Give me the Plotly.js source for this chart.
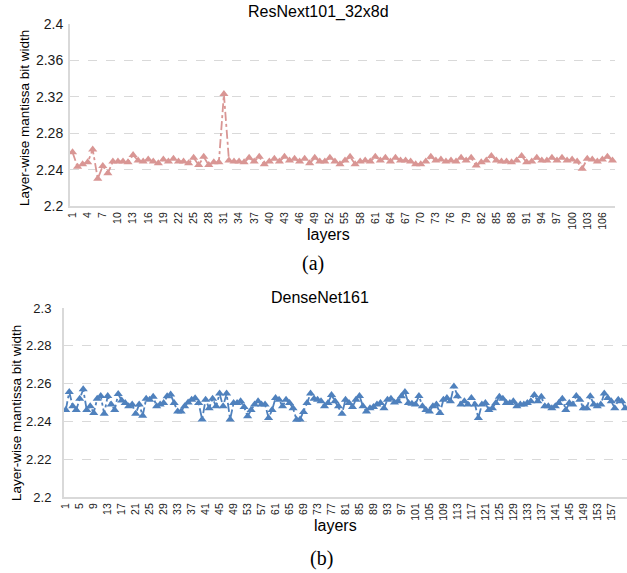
<!DOCTYPE html>
<html>
<head>
<meta charset="utf-8">
<script src="https://cdn.plot.ly/plotly-3.0.1.min.js"></script>
<style>html,body{margin:0;padding:0;background:#fff;overflow:hidden}#chart{width:627px;height:573px}</style>
</head>
<body>
<div id="chart"></div>
<script>
// ResNext101_32x8d layer-wise mantissa bit width (108 layers)
const resnextValues = [
 2.259,2.243,2.246,2.248,2.262,2.230,2.244,2.236,2.249,2.249,
 2.249,2.248,2.256,2.250,2.249,2.251,2.249,2.247,2.251,2.249,
 2.252,2.249,2.249,2.247,2.253,2.245,2.254,2.245,2.248,2.248,
 2.323,2.250,2.249,2.249,2.248,2.253,2.249,2.254,2.246,2.249,
 2.252,2.249,2.254,2.250,2.252,2.249,2.252,2.247,2.253,2.249,
 2.249,2.253,2.249,2.246,2.250,2.254,2.246,2.249,2.250,2.249,
 2.254,2.250,2.253,2.249,2.253,2.250,2.250,2.249,2.246,2.246,
 2.249,2.254,2.250,2.251,2.249,2.250,2.249,2.253,2.250,2.253,
 2.2445,2.248,2.250,2.255,2.250,2.249,2.249,2.248,2.250,2.255,
 2.248,2.249,2.253,2.250,2.250,2.253,2.250,2.253,2.250,2.251,
 2.249,2.241,2.252,2.251,2.249,2.251,2.254,2.250];

// DenseNet161 layer-wise mantissa bit width (161 layers)
const densenetValues = [
 2.246,2.2556,2.248,2.246,2.252,2.257,2.246,2.248,2.2445,2.252,
 2.2535,2.244,2.2535,2.249,2.246,2.2545,2.251,2.2497,2.248,2.249,
 2.244,2.249,2.243,2.252,2.2515,2.253,2.248,2.249,2.2497,2.2533,
 2.2542,2.2497,2.2453,2.2453,2.248,2.250,2.2515,2.2523,2.2497,2.241,
 2.2515,2.247,2.252,2.248,2.2547,2.248,2.2547,2.241,2.2497,2.2497,
 2.2506,2.2476,2.2427,2.246,2.249,2.2506,2.249,2.249,2.2418,2.246,
 2.2524,2.2515,2.248,2.2515,2.2497,2.247,2.2409,2.241,2.245,2.2497,
 2.2547,2.252,2.2515,2.2506,2.248,2.2497,2.254,2.2506,2.248,2.244,
 2.2515,2.2497,2.2476,2.2515,2.2535,2.248,2.2453,2.247,2.2476,2.249,
 2.2497,2.247,2.2515,2.252,2.250,2.2506,2.2533,2.2555,2.2497,2.2494,
 2.249,2.2535,2.248,2.246,2.2453,2.248,2.249,2.2445,2.2515,2.2524,
 2.2506,2.2585,2.2533,2.249,2.2506,2.249,2.2524,2.249,2.2418,2.249,
 2.2497,2.246,2.247,2.2497,2.253,2.252,2.2497,2.2497,2.2506,2.248,
 2.249,2.249,2.2497,2.2506,2.254,2.2506,2.253,2.248,2.248,2.247,
 2.248,2.2497,2.252,2.246,2.2497,2.249,2.2535,2.2515,2.247,2.247,
 2.2533,2.249,2.248,2.249,2.2547,2.2524,2.2506,2.247,2.2515,2.2506,2.247];

// layer indices (categories)
const resnextLayers = resnextValues.map((_, i) => i + 1);
const densenetLayers = densenetValues.map((_, i) => i + 1);

// tick labels
const resnextXTicks = [1,4,7,10,13,16,19,22,25,28,31,34,37,40,43,46,49,52,55,58,61,64,67,70,73,76,79,82,85,88,91,94,97,100,103,106];
const densenetXTicks = [1,5,9,13,17,21,25,29,33,37,41,45,49,53,57,61,65,69,73,77,81,85,89,93,97,101,105,109,113,117,121,125,129,133,137,141,145,149,153,157];
const resnextYTicks = [2.2,2.24,2.28,2.32,2.36,2.4];
const resnextYLabels = ["2.2","2.24","2.28","2.32","2.36","2.4"];
const densenetYTicks = [2.2,2.22,2.24,2.26,2.28,2.3];
const densenetYLabels = ["2.2","2.22","2.24","2.26","2.28","2.3"];

const W = 627, H = 573;
const px = v => v / W;
const py = v => 1 - v / H;

const redColor = '#d99694';
const blueColor = '#4f81bd';
const FONT = 'Liberation Sans, Arial, sans-serif';

const traces = [
  {
    x: resnextLayers, y: resnextValues, xaxis: 'x', yaxis: 'y',
    type: 'scatter', mode: 'lines+markers',
    line: {color: redColor, width: 1.8, dash: 'dashdot'},
    marker: {symbol: 'triangle-up', size: 8, color: redColor},
    cliponaxis: false
  },
  {
    x: densenetLayers, y: densenetValues, xaxis: 'x2', yaxis: 'y2',
    type: 'scatter', mode: 'lines+markers',
    line: {color: blueColor, width: 1.8, dash: 'dashdot'},
    marker: {symbol: 'triangle-up', size: 8, color: blueColor}
  }
];

const gridCommon = {
  showgrid: true, gridcolor: '#d9d9d9', gridwidth: 1.3, griddash: 'dash',
  zeroline: false, ticks: '', showline: true, linecolor: '#d9d9d9', linewidth: 2,
  tickfont: {family: FONT, size: 14, color: '#1a1a1a'}
};
const xCommon = {
  showgrid: false, zeroline: false, ticks: '', showline: true,
  linecolor: '#d9d9d9', linewidth: 2, tickangle: -90,
  tickfont: {family: FONT, size: 10.5, color: '#1a1a1a'}
};

const layout = {
  width: W, height: H,
  margin: {l: 0, r: 0, t: 0, b: 0},
  paper_bgcolor: '#fff', plot_bgcolor: '#fff',
  showlegend: false,
  font: {family: FONT},
  xaxis: Object.assign({}, xCommon, {
    domain: [px(70), px(615)], anchor: 'y', range: [0.5, 108.5],
    tickmode: 'array', tickvals: resnextXTicks, ticktext: resnextXTicks.map(String)
  }),
  yaxis: Object.assign({}, gridCommon, {
    domain: [py(206), py(24)], anchor: 'x', range: [2.2, 2.4],
    tickmode: 'array', tickvals: resnextYTicks, ticktext: resnextYLabels,
    ticklabelstandoff: 2
  }),
  xaxis2: Object.assign({}, xCommon, {
    domain: [px(64), 1], anchor: 'y2', range: [0.5, 161.5],
    tickmode: 'array', tickvals: densenetXTicks, ticktext: densenetXTicks.map(String)
  }),
  yaxis2: Object.assign({}, gridCommon, {
    domain: [py(497), py(308)], anchor: 'x2', range: [2.2, 2.3],
    tickmode: 'array', tickvals: densenetYTicks, ticktext: densenetYLabels,
    ticklabelstandoff: 8,
    tickfont: {family: FONT, size: 13, color: '#1a1a1a'}
  }),
  annotations: [
    {text: 'ResNext101_32x8d', xref: 'paper', yref: 'paper', x: px(318), y: py(12),
     showarrow: false, xanchor: 'center', yanchor: 'middle', font: {family: FONT, size: 16, color: '#000'}},
    {text: 'DenseNet161', xref: 'paper', yref: 'paper', x: px(320), y: py(297),
     showarrow: false, xanchor: 'center', yanchor: 'middle', font: {family: FONT, size: 16, color: '#000'}},
    {text: 'Layer-wise mantissa bit width', xref: 'paper', yref: 'paper', x: px(24), y: py(118),
     showarrow: false, textangle: -90, xanchor: 'center', yanchor: 'middle', font: {family: FONT, size: 13.5, color: '#000'}},
    {text: 'Layer-wise mantissa bit width', xref: 'paper', yref: 'paper', x: px(16), y: py(413),
     showarrow: false, textangle: -90, xanchor: 'center', yanchor: 'middle', font: {family: FONT, size: 13.5, color: '#000'}},
    {text: 'layers', xref: 'paper', yref: 'paper', x: px(328), y: py(234),
     showarrow: false, xanchor: 'center', yanchor: 'middle', font: {family: FONT, size: 16, color: '#000'}},
    {text: 'layers', xref: 'paper', yref: 'paper', x: px(335), y: py(525),
     showarrow: false, xanchor: 'center', yanchor: 'middle', font: {family: FONT, size: 16, color: '#000'}},
    {text: '(a)', xref: 'paper', yref: 'paper', x: px(313), y: py(263),
     showarrow: false, xanchor: 'center', yanchor: 'middle', font: {family: 'Liberation Serif, Times New Roman, serif', size: 20, color: '#000'}},
    {text: '(b)', xref: 'paper', yref: 'paper', x: px(321), y: py(558),
     showarrow: false, xanchor: 'center', yanchor: 'middle', font: {family: 'Liberation Serif, Times New Roman, serif', size: 20, color: '#000'}}
  ]
};

Plotly.newPlot('chart', traces, layout, {displayModeBar: false, staticPlot: true});
</script>
</body>
</html>
